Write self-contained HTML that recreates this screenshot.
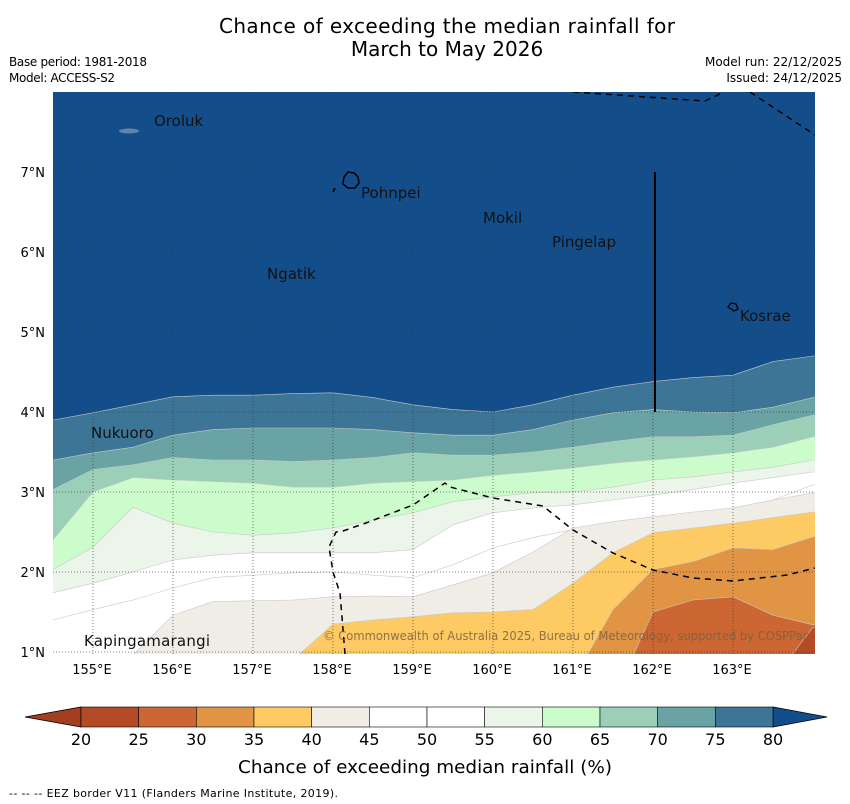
<!DOCTYPE html>
<html><head><meta charset="utf-8"><style>
html,body{margin:0;padding:0;background:#fff;}
svg{display:block;font-family:"DejaVu Sans","Liberation Sans",sans-serif;}
</style></head><body>
<svg id="chart" width="850" height="804" viewBox="0 0 850 804">
<text x="447" y="33" font-size="20" text-anchor="middle" textLength="456">Chance of exceeding the median rainfall for</text>
<text x="447" y="56" font-size="20" text-anchor="middle">March to May 2026</text>
<text x="9" y="66" font-size="12" textLength="138">Base period: 1981-2018</text>
<text x="9" y="82" font-size="12" textLength="106">Model: ACCESS-S2</text>
<text x="842" y="66" font-size="12" text-anchor="end">Model run: 22/12/2025</text>
<text x="842" y="82" font-size="12" text-anchor="end">Issued: 24/12/2025</text>
<defs><clipPath id="mapclip"><rect x="53" y="92" width="762" height="562"/></clipPath></defs>
<g id="map" clip-path="url(#mapclip)">
<rect x="53" y="92" width="762" height="562" fill="#144e8a"/>
<g id="bands"></g>
<g id="grid"></g>
<path d="M573,92 L705,101 L728,90 M750,92 L815,135" fill="none" stroke="#000" stroke-width="1.5" stroke-dasharray="6,5"/>
<path d="M345,654 L340,593 L333,572 L329,547 L336,532 L343,531 L366,523 L413,505 L445,483 L450,487 L493,498 L543,506 L573,530 L613,553 L653,570 L693,578 L733,581 L787,575 L815,568" fill="none" stroke="#000" stroke-width="1.5" stroke-dasharray="6,5"/>
<path d="M335,188 L333,192" stroke="#000" stroke-width="1.5"/>
<line x1="655" y1="172" x2="655" y2="412" stroke="#000" stroke-width="2"/>
<ellipse cx="129" cy="131" rx="10" ry="2.5" fill="#5d86a8"/>
<path d="M344,177 L348,172 L354,173 L358,177 L359,183 L355,188 L348,188 L343,184 Z" fill="none" stroke="#000" stroke-width="1.5"/>
<path d="M728,307 L731,303 L736,304 L738,309 L734,311 Z" fill="none" stroke="#000" stroke-width="1.3"/>
<g font-size="15" fill="#111">
<text x="154" y="126">Oroluk</text>
<text x="361" y="198">Pohnpei</text>
<text x="483" y="223">Mokil</text>
<text x="552" y="247">Pingelap</text>
<text x="267" y="279">Ngatik</text>
<text x="740" y="321">Kosrae</text>
<text x="91" y="438">Nukuoro</text>
<text x="84" y="646" textLength="126">Kapingamarangi</text>
</g>
<text x="323" y="640" font-size="12" fill="#7a6140" fill-opacity="0.85" textLength="486" lengthAdjust="spacingAndGlyphs">© Commonwealth of Australia 2025, Bureau of Meteorology, supported by COSPPac</text>
</g>
<g id="axes"></g>
<g id="colorbar"></g>
<text x="425" y="773" font-size="18" text-anchor="middle" textLength="374" lengthAdjust="spacingAndGlyphs">Chance of exceeding median rainfall (%)</text>
<text x="9" y="797" font-size="11" textLength="329">--  --  -- EEZ border V11 (Flanders Marine Institute, 2019).</text>
<script>
const NS='http://www.w3.org/2000/svg';
const lons=[154.5,155,155.5,156,156.5,157,157.5,158,158.5,159,159.5,160,160.5,161,161.5,162,162.5,163,163.5,164];
const levels=[80,75,70,65,60,55,50,45,40,35,30,25];
const bandColors=['#3d7597','#6aa3a3','#9bcfb8','#ccfccc','#ebf5e9','#ffffff','#ffffff','#f0ece6','#fdca64','#e09444','#cc6633','#b34b26'];
const c80=[3.90,3.99,4.09,4.19,4.21,4.21,4.23,4.24,4.18,4.09,4.03,4.00,4.09,4.21,4.31,4.38,4.43,4.46,4.63,4.70];
const c75=[3.40,3.49,3.56,3.71,3.78,3.80,3.80,3.80,3.78,3.74,3.71,3.71,3.78,3.90,3.99,4.03,4.00,3.99,4.06,4.18];
const c70=[3.03,3.28,3.34,3.43,3.40,3.40,3.38,3.40,3.43,3.49,3.46,3.46,3.50,3.56,3.63,3.69,3.69,3.71,3.84,3.96];
const c65=[2.40,3.00,3.18,3.15,3.13,3.11,3.06,3.06,3.11,3.13,3.15,3.21,3.25,3.30,3.36,3.40,3.44,3.49,3.56,3.69];
const c60=[2.03,2.31,2.81,2.61,2.50,2.46,2.49,2.55,2.65,2.74,2.88,2.94,2.99,3.00,3.06,3.15,3.19,3.25,3.31,3.40];
const c55=[1.74,1.86,2.00,2.15,2.21,2.24,2.24,2.24,2.24,2.28,2.59,2.74,2.80,2.84,2.90,2.96,3.03,3.11,3.18,3.25];
const c50=[1.40,1.53,1.65,1.80,1.93,1.96,1.99,2.00,1.96,1.93,2.09,2.30,2.43,2.53,2.59,2.65,2.71,2.80,2.90,3.09];
const c45=[0.53,0.65,0.96,1.46,1.63,1.64,1.65,1.69,1.70,1.69,1.84,1.99,2.25,2.55,2.63,2.69,2.75,2.80,2.90,2.99];
const c40=[0.40,0.40,0.40,0.40,0.40,0.40,0.90,1.35,1.40,1.44,1.49,1.50,1.53,1.86,2.24,2.49,2.55,2.61,2.68,2.75];
const c35=[0.40,0.40,0.40,0.40,0.40,0.40,0.40,0.40,0.40,0.40,0.40,0.40,0.40,0.65,1.53,2.03,2.13,2.30,2.28,2.44];
const c30=[0.40,0.40,0.40,0.40,0.40,0.40,0.40,0.40,0.40,0.40,0.40,0.40,0.40,0.40,0.40,1.50,1.65,1.69,1.46,1.34];
const c25=[0.40,0.40,0.40,0.40,0.40,0.40,0.40,0.40,0.40,0.40,0.40,0.40,0.40,0.40,0.40,0.40,0.40,0.40,0.65,1.31];
const contours=[c80,c75,c70,c65,c60,c55,c50,c45,c40,c35,c30,c25];
const latTicks=[1,2,3,4,5,6,7];
const lonTicks=[155,156,157,158,159,160,161,162,163];
const cbTicks=[20,25,30,35,40,45,50,55,60,65,70,75,80];
const cbColors=['#b34b26','#cc6633','#e09444','#fdca64','#f0ece6','#ffffff','#ffffff','#ebf5e9','#ccfccc','#9bcfb8','#6aa3a3','#3d7597'];
const X=lon=>93+(lon-155)*80;
const Y=lat=>172+(7-lat)*80;
function mk(tag,attrs,parent){const e=document.createElementNS(NS,tag);for(const k in attrs)e.setAttribute(k,attrs[k]);parent.appendChild(e);return e;}
const bands=document.getElementById('bands');
contours.forEach((c,i)=>{
  let d='M'+X(lons[0]-0.1)+','+Y(c[0]);
  c.forEach((lat,j)=>{d+=' L'+X(lons[j])+','+Y(lat);});
  d+=' L'+X(lons[lons.length-1]+0.2)+','+Y(c[c.length-1])+' L'+X(165)+',720 L'+X(154)+',720 Z';
  const p=mk('path',{d:d,fill:bandColors[i],stroke:'#c8c8c8','stroke-width':0.6},bands);
  
  
});
const grid=document.getElementById('grid');
lonTicks.forEach(l=>{const g=mk('line',{x1:X(l),y1:92,x2:X(l),y2:654,stroke:'#333','stroke-width':0.8,'stroke-dasharray':'1,2','stroke-opacity':0.8},grid);
  
  });
latTicks.forEach(l=>{const g=mk('line',{x1:53,y1:Y(l),x2:815,y2:Y(l),stroke:'#333','stroke-width':0.8,'stroke-dasharray':'1,2','stroke-opacity':0.8},grid);
  
  });
const axes=document.getElementById('axes');
latTicks.forEach(l=>{const t=mk('text',{x:45,y:Y(l)+5,'font-size':13,'text-anchor':'end'},axes);t.textContent=l+'°N';
  
  });
lonTicks.forEach(l=>{const t=mk('text',{x:X(l)-1,y:674,'font-size':13,'text-anchor':'middle'},axes);t.textContent=l+'°E';
  
  });
const cb=document.getElementById('colorbar');
const CX=v=>81+(v-20)*(692/60);
const lt=mk('polygon',{points:'25,717 '+CX(20)+',707 '+CX(20)+',727',fill:'#a33e1f',stroke:'#000','stroke-width':0.8},cb);


const rt=mk('polygon',{points:'827,717 '+CX(80)+',707 '+CX(80)+',727',fill:'#144e8a',stroke:'#000','stroke-width':0.8},cb);


cbColors.forEach((c,i)=>{const r=mk('rect',{x:CX(cbTicks[i]),y:707,width:CX(cbTicks[i+1])-CX(cbTicks[i]),height:20,fill:c,stroke:'#000','stroke-width':0.6},cb);
  
  });
cbTicks.forEach(v=>{const t=mk('text',{x:CX(v),y:745,'font-size':16,'text-anchor':'middle'},cb);t.textContent=v;
  
  });
</script>
</svg>
</body></html>
